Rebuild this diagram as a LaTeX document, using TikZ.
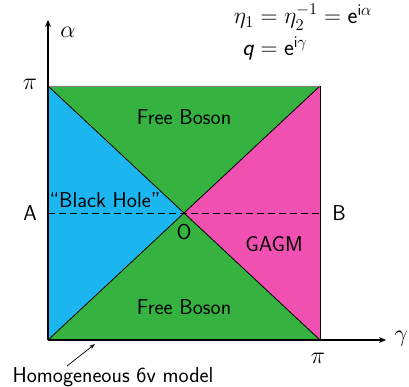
\RequirePackage{fix-cm}
\documentclass[tikz,border=0pt]{standalone}
\usepackage{amsmath}
\usepackage{fontspec}
\usetikzlibrary{arrows.meta}
\renewcommand{\familydefault}{\sfdefault}
\definecolor{cblue}{HTML}{1BB6EF}
\definecolor{cgreen}{HTML}{36B240}
\definecolor{cpink}{HTML}{F050B0}
\tikzset{
  lbl/.style={font=\fontsize{21.5}{26}\selectfont, inner sep=0pt},
  mlbl/.style={font=\fontsize{24}{28}\selectfont, inner sep=0pt},
  flbl/.style={font=\fontsize{23.5}{28}\selectfont, inner sep=0pt},
  axis/.style={line width=1.3pt, -{Stealth[length=7pt,width=6pt]}},
  edge/.style={line width=0.8pt}
}
\begin{document}
\begin{tikzpicture}[x=1pt,y=-1pt]
\useasboundingbox (0,0) rectangle (409,387);
\coordinate (LT) at (48,86);
\coordinate (RT) at (320,86);
\coordinate (LB) at (48,340);
\coordinate (RB) at (320,340);
\coordinate (C) at (184,213);
\coordinate (Am) at (48,213);
\coordinate (Bm) at (320,213);
\fill[cblue] (LT) -- (LB) -- (C) -- cycle;
\fill[cgreen] (LT) -- (RT) -- (C) -- cycle;
\fill[cpink] (RT) -- (RB) -- (C) -- cycle;
\fill[cgreen] (LB) -- (RB) -- (C) -- cycle;
\draw[edge] (LT) -- (RB);
\draw[edge] (RT) -- (LB);
\draw[edge] (RT) -- (RB);
\draw[line width=0.8pt, gray] (LT) -- (RT);
\draw[line width=0.7pt, dash pattern=on 6.5pt off 4.5pt] (Am) -- (Bm);
\coordinate (O0) at (48,340);
\coordinate (Ytop) at (48,20);
\coordinate (Xend) at (386,340);
\draw[axis] (O0) -- (Ytop);
\draw[axis] (O0) -- (Xend);
\node[mlbl] (alpha) at (68,32) {$\alpha$};
\node[mlbl] (gamma) at (401,339) {$\gamma$};
\node[mlbl] (pil) at (30,84) {$\pi$};
\node[mlbl] (pib) at (318,358) {$\pi$};
\node[lbl] (A) at (30,213) {A};
\node[lbl] (B) at (339,213) {B};
\node[lbl] (O) at (184,232) {O};
\node[lbl] (bh) at (105,200) {``Black Hole''};
\node[lbl] (gagm) at (274,244) {GAGM};
\node[lbl] (fb1) at (184,117) {Free Boson};
\node[lbl] (fb2) at (184,307) {Free Boson};
\node[flbl, anchor=base west] (eqa) at (254,24) {${}=\eta_2^{-1}=\mathsf{e}^{\mathsf{i}\alpha}$};
\node[flbl, anchor=base east] (eta1) at (eqa.base west) {$\eta_1$};
\node[flbl, anchor=base west] (eqb) at (254,56) {${}=\mathsf{e}^{\mathsf{i}\gamma}$};
\node[flbl, anchor=base east] (q) at (eqb.base west) {\itshape q};
\node[lbl] (hom) at (113,377) {Homogeneous 6v model};
\coordinate (hs) at (67,366);
\coordinate (he) at (95,344);
\draw[line width=0.7pt, -{Stealth[length=6pt,width=4pt]}] (hs) -- (he);
\end{tikzpicture}
\end{document}
